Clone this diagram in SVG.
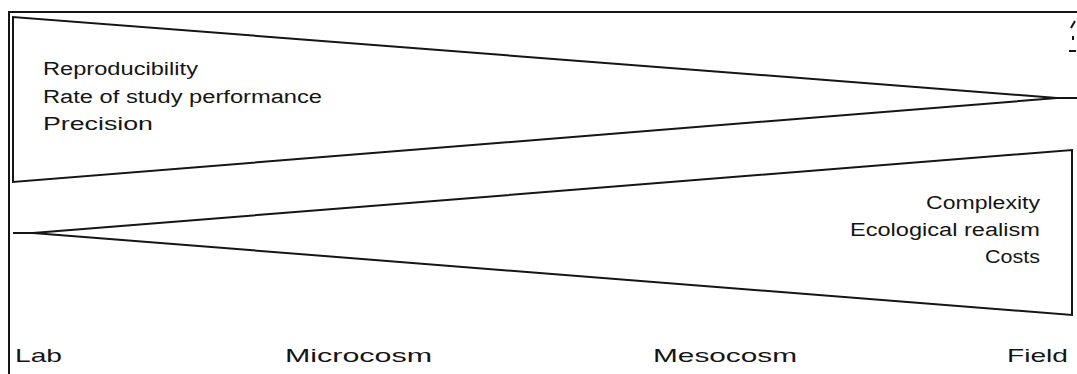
<svg xmlns="http://www.w3.org/2000/svg" width="1077" height="374" viewBox="0 0 1077 374">
<style>
.ln{fill:none;stroke:#151515;stroke-width:2;stroke-linejoin:miter}
.t{font-family:"Liberation Sans",Arial,sans-serif;font-size:18px;fill:#151515}
.b{font-family:"Liberation Sans",Arial,sans-serif;font-size:19px;fill:#151515}
.r{text-anchor:end}
</style>
<rect width="1077" height="374" fill="#ffffff"/>
<g id="connectors">
<path class="ln" d="M9,374 V12 H1077"/>
<path class="ln" d="M1077,98 H1057 L13,17 V182 L1057,98"/>
<path class="ln" d="M13,233 H33 L1072,150 V315 L33,233"/>
<path class="ln" d="M1075,21 L1071,28 M1073,36 V40 M1069,51 H1076" stroke-width="1.6"/>
</g>
<g id="lab-box">
<text class="t" x="43" y="75" textLength="155" lengthAdjust="spacingAndGlyphs">Reproducibility</text>
<text class="t" x="43" y="103" textLength="279" lengthAdjust="spacingAndGlyphs">Rate of study performance</text>
<text class="t" x="43" y="130" textLength="110" lengthAdjust="spacingAndGlyphs">Precision</text>
</g>
<g id="field-box">
<text class="t" x="926" y="209" textLength="114" lengthAdjust="spacingAndGlyphs">Complexity</text>
<text class="t" x="850" y="236" textLength="190" lengthAdjust="spacingAndGlyphs">Ecological realism</text>
<text class="t" x="985" y="263" textLength="55" lengthAdjust="spacingAndGlyphs">Costs</text>
</g>
<g id="axis">
<text class="b" x="15" y="362" textLength="47" lengthAdjust="spacingAndGlyphs">Lab</text>
<text class="b" x="285" y="362" textLength="147" lengthAdjust="spacingAndGlyphs">Microcosm</text>
<text class="b" x="653" y="362" textLength="144" lengthAdjust="spacingAndGlyphs">Mesocosm</text>
<text class="b" x="1007" y="362" textLength="61" lengthAdjust="spacingAndGlyphs">Field</text>
</g>
</svg>
